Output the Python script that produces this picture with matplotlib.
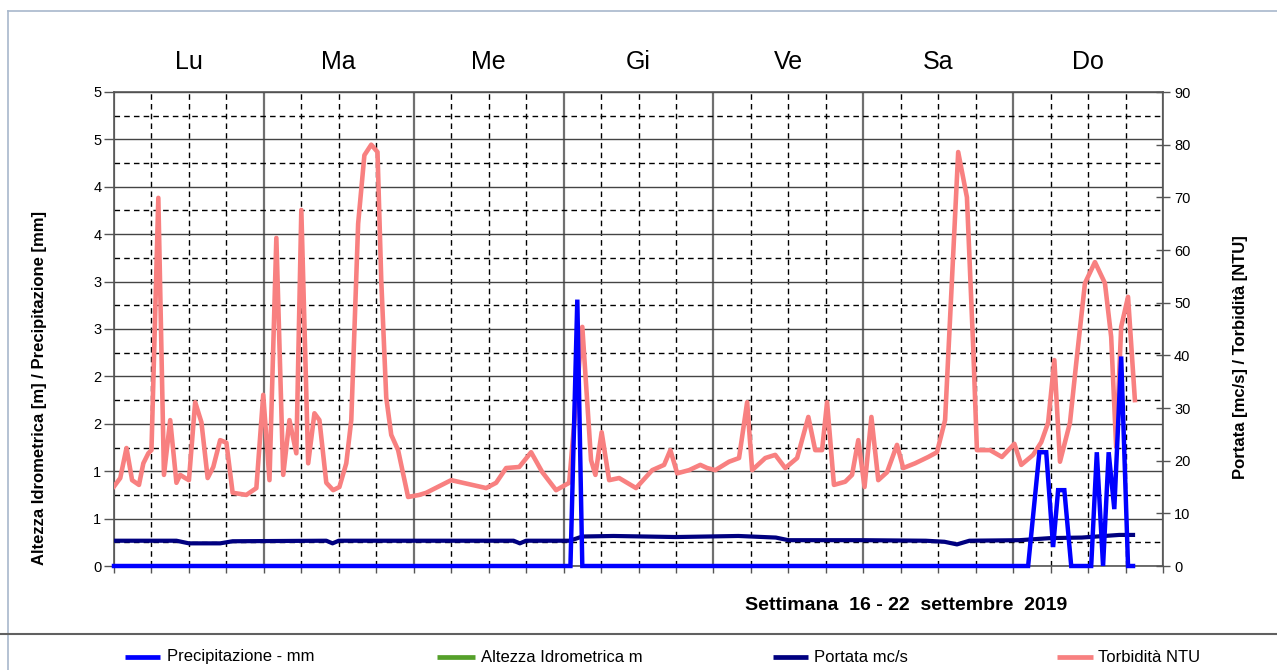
import matplotlib
matplotlib.use('Agg')
import matplotlib.pyplot as plt
from matplotlib.ticker import MultipleLocator
from matplotlib.lines import Line2D

plt.rcParams['font.family'] = ['Liberation Sans', 'DejaVu Sans']

# ---------------- data ----------------
days = ['Lu', 'Ma', 'Me', 'Gi', 'Ve', 'Sa', 'Do']
left_ticks = [0, 0.5, 1, 1.5, 2, 2.5, 3, 3.5, 4, 4.5, 5]
left_labels = ['0', '1', '1', '2', '2', '3', '3', '4', '4', '5', '5']
right_ticks = [0, 10, 20, 30, 40, 50, 60, 70, 80, 90]

# Torbidità NTU (right axis), hours from Monday 00:00
torb_t = [0.0, 1.0, 2.0, 2.9, 4.0, 4.7, 5.5, 6.0, 7.1, 8.0, 9.0, 10.0, 10.6, 11.4, 12.0,
          13.0, 14.0, 15.0, 15.9, 17.0, 18.0, 19.0, 21.2, 22.8, 23.9, 24.9, 26.0, 27.1,
          28.1, 29.2, 30.0, 31.1, 32.1, 32.9, 34.0, 35.1, 36.1, 37.2, 38.0, 39.1, 40.1,
          41.2, 42.2, 42.8, 43.6, 44.4, 45.5, 47.1, 48.9, 50.0, 54.0, 59.6, 61.2, 62.8,
          64.9, 66.8, 68.6, 70.8, 72.9, 75.0, 76.4, 77.1, 78.1, 79.3, 80.9, 83.6, 86.2,
          88.1, 89.1, 90.2, 92.1, 93.9, 95.0, 96.3, 98.5, 100.1, 101.4, 102.2, 104.3,
          105.9, 107.5, 109.4, 111.2, 112.3, 113.4, 114.2, 115.3, 117.1, 118.2, 119.2,
          120.2, 121.3, 122.4, 123.8, 125.4, 126.4, 128.3, 130.4, 131.8, 133.1, 134.2,
          135.2, 136.6, 137.6, 138.2, 140.3, 142.2, 144.2, 145.3, 147.2, 148.5, 149.6,
          150.6, 151.5, 153.1, 154.1, 155.5, 157.1, 158.7, 159.7, 160.5, 161.3, 162.4, 163.5]
torb_v = [15.1, 16.7, 22.4, 16.3, 15.4, 19.5, 21.4, 22.0, 69.9, 17.3, 27.7, 15.8, 17.3, 16.7, 16.3,
          31.1, 27.3, 16.7, 18.8, 23.9, 23.4, 13.9, 13.5, 14.8, 32.5, 16.3, 62.3, 17.3,
          27.7, 21.4, 67.6, 19.5, 29.0, 27.7, 15.8, 14.4, 15.0, 19.5, 27.7, 65.0, 78.0,
          80.0, 78.6, 54.3, 32.0, 24.9, 22.0, 13.1, 13.5, 13.9, 16.3, 14.8, 15.8, 18.6,
          18.8, 21.6, 17.8, 14.4, 15.8, 45.4, 20.1, 17.3, 25.4, 16.3, 16.7, 14.8, 18.2,
          19.2, 22.0, 17.6, 18.2, 19.2, 18.6, 18.2, 19.8, 20.5, 31.1, 18.2, 20.5,
          21.1, 18.6, 20.5, 28.3, 22.0, 22.0, 31.1, 15.4, 16.0, 17.3, 23.9,
          15.0, 28.3, 16.3, 17.8, 23.0, 18.6, 19.5, 20.7, 21.6, 27.7, 54.3,
          78.6, 70.0, 41.6, 22.0, 22.0, 20.7, 23.2, 19.2, 21.1, 23.5, 27.2,
          39.1, 19.8, 27.2, 38.5, 53.7, 57.7, 53.7, 43.5, 22.6, 45.4, 51.1, 31.5]

# Portata mc/s (right axis)
port_t = [0, 10, 12, 17, 19, 34, 35, 36, 64, 65, 66, 73, 75, 80, 90, 100, 106, 108,
          120, 130, 133, 135, 137, 145, 150, 155, 161, 163.2]
port_v = [4.8, 4.8, 4.3, 4.3, 4.7, 4.8, 4.3, 4.8, 4.8, 4.3, 4.8, 4.8, 5.6, 5.7, 5.5, 5.7, 5.4, 4.9,
          4.9, 4.8, 4.6, 4.1, 4.8, 4.9, 5.3, 5.4, 5.9, 5.9]

# Precipitazione mm (left axis)
prec_t = [0, 73.1, 74.2, 75.0, 146.4, 148.2, 149.3, 150.4, 151.2, 152.2, 153.3,
          156.5, 157.4, 158.4, 159.3, 160.2, 161.3, 162.4, 163.2]
prec_v = [0, 0, 2.81, 0, 0, 1.2, 1.2, 0.2, 0.8, 0.8, 0,
          0, 1.2, 0, 1.2, 0.6, 2.21, 0, 0]

# Altezza Idrometrica m (no data shown)
alt_t = []
alt_v = []

labels = ['Precipitazione - mm', 'Altezza Idrometrica m', 'Portata mc/s', 'Torbidità NTU']
colors = ['#0000FF', '#55A02A', '#000080', '#F88080']

# ---------------- figure ----------------
W, H = 1277, 670
fig = plt.figure(figsize=(W / 100, H / 100), dpi=100)
fig.patch.set_facecolor('white')

ax = fig.add_axes([114 / W, 1 - 566 / H, (1163 - 114) / W, (566 - 92) / H])
ax.set_xlim(0, 168)
ax.set_ylim(0, 5)
ax.xaxis.set_major_locator(MultipleLocator(24))
ax.xaxis.set_minor_locator(MultipleLocator(6))
ax.yaxis.set_major_locator(MultipleLocator(0.5))
ax.yaxis.set_minor_locator(MultipleLocator(0.25))
ax.set_yticks(left_ticks)
ax.set_yticklabels(left_labels)

ax.xaxis.grid(True, which='major', color='#707070', lw=1.6, ls='-')
ax.yaxis.grid(True, which='major', color='#444444', lw=1.0, ls='-')
ax.xaxis.grid(True, which='minor', color='black', lw=1.0, ls=(0, (4, 3)))
ax.yaxis.grid(True, which='minor', color='black', lw=1.0, ls=(0, (4, 3)))
ax.set_axisbelow(True)

ax.tick_params(axis='y', which='major', direction='out', length=7, width=1,
               labelsize=10.5, pad=2, color='#555555')
ax.tick_params(axis='y', which='minor', length=0)
ax.tick_params(axis='x', which='both', direction='out', length=5, width=1,
               labelbottom=False, color='#555555')
for s in ax.spines.values():
    s.set_color('#555555')
    s.set_linewidth(1.2)

ax.plot(alt_t, alt_v, color=colors[1], lw=2.5)

ax2 = ax.twinx()
ax2.set_ylim(0, 90)
ax2.set_yticks(right_ticks)
ax2.tick_params(axis='y', direction='inout', length=10, width=1, labelsize=10.5,
                pad=3, color='#555555')
for s in ax2.spines.values():
    s.set_visible(False)
ax2.patch.set_visible(False)
ax2.plot(port_t, port_v, color=colors[2], lw=3.0, solid_joinstyle='round')
ax2.plot(torb_t, torb_v, color=colors[3], lw=3.3, solid_joinstyle='round')

ax3 = ax.twinx()
ax3.set_ylim(0, 5)
ax3.axis('off')
ax3.plot(prec_t, prec_v, color=colors[0], lw=3.2, solid_joinstyle='miter',
         clip_on=False)

# day labels
for i, d in enumerate(days):
    ax.text(i * 24 + 12, 1.063, d, transform=ax.get_xaxis_transform(),
            ha='center', va='center', fontsize=18)

# axis titles
fig.text(40 / W, 1 - 388 / H, 'Altezza Idrometrica [m] / Precipitazione [mm]',
         rotation=90, ha='center', va='center', fontsize=12, fontweight='bold')
fig.text(1240 / W, 1 - 357 / H, 'Portata [mc/s] / Torbidità [NTU]',
         rotation=90, ha='center', va='center', fontsize=12, fontweight='bold')
fig.text(906 / W, 1 - 606 / H, 'Settimana  16 - 22  settembre  2019',
         ha='center', va='center', fontsize=14, fontweight='bold')

# legend
leg_pos = [(125, 160, 167), (437, 475, 481), (773, 808, 814), (1057, 1093, 1098)]
ly = 1 - 657 / H
for (x0, x1, xt), lab, c in zip(leg_pos, labels, colors):
    fig.add_artist(Line2D([x0 / W, x1 / W], [ly, ly], transform=fig.transFigure,
                          color=c, lw=3.4, solid_capstyle='butt'))
    fig.text(xt / W, ly, lab, ha='left', va='center', fontsize=12)

# frame lines
fig.add_artist(Line2D([8 / W, 8 / W], [0, 1 - 11 / H], transform=fig.transFigure,
                      color='#A8B8CC', lw=1.2))
fig.add_artist(Line2D([8 / W, 1], [1 - 11 / H, 1 - 11 / H], transform=fig.transFigure,
                      color='#A8B8CC', lw=1.2))
fig.add_artist(Line2D([0, 1], [1 - 634 / H, 1 - 634 / H], transform=fig.transFigure,
                      color='#606060', lw=1.5))

fig.savefig('out.png', dpi=100)
